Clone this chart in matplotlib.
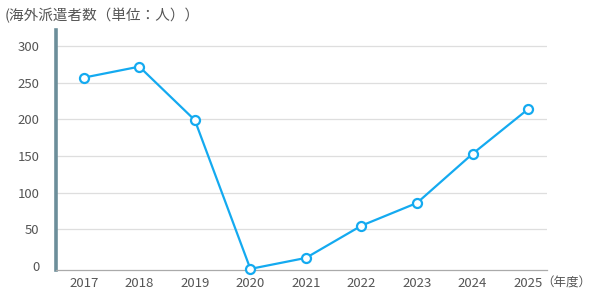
import matplotlib
matplotlib.use("Agg")
import matplotlib.pyplot as plt

plt.rcParams['font.family'] = ['Noto Sans CJK JP', 'DejaVu Sans']

years = ['2017', '2018', '2019', '2020', '2021', '2022', '2023', '2024', '2025']
dispatched = [257, 272, 199, -4, 11, 55, 86, 153, 214]
y_ticks = [0, 50, 100, 150, 200, 250, 300]

LINE_COLOR = '#14aaf0'
TEXT_COLOR = '#555555'

fig = plt.figure(figsize=(6, 3), dpi=100)
ax = fig.add_axes([0.0933, 0.1, 0.8183, 0.8])

x = list(range(len(years)))
ax.plot(x, dispatched, color=LINE_COLOR, linewidth=1.6, marker='o',
        markersize=6.5, markerfacecolor='white', markeredgecolor=LINE_COLOR,
        markeredgewidth=1.6, zorder=3, clip_on=False)

ax.set_xlim(-0.5, 8.34)
ax.set_ylim(-5.5, 322)
ax.set_xticks(x)
ax.set_xticklabels(years)
ax.set_yticks(y_ticks)

# grid lines only above zero
for v in y_ticks[1:]:
    ax.axhline(v, color='#dedede', linewidth=0.9, zorder=1)

for s in ['top', 'right']:
    ax.spines[s].set_visible(False)
ax.spines['left'].set_color('#6c8e9a')
ax.spines['left'].set_linewidth(2.6)
ax.spines['bottom'].set_color('#aaaaaa')
ax.spines['bottom'].set_linewidth(0.9)

ax.tick_params(axis='both', length=0, labelsize=9.5, colors=TEXT_COLOR)
ax.tick_params(axis='y', pad=12)
ax.tick_params(axis='x', pad=5)

fig.text(0.008, 0.948, '(海外派遣者数（単位：人））', fontsize=10.5,
         color=TEXT_COLOR, va='center', ha='left')
fig.text(0.985, 0.057, '（年度）', fontsize=9, color=TEXT_COLOR,
         va='center', ha='right')

fig.savefig('out.png', dpi=100)
